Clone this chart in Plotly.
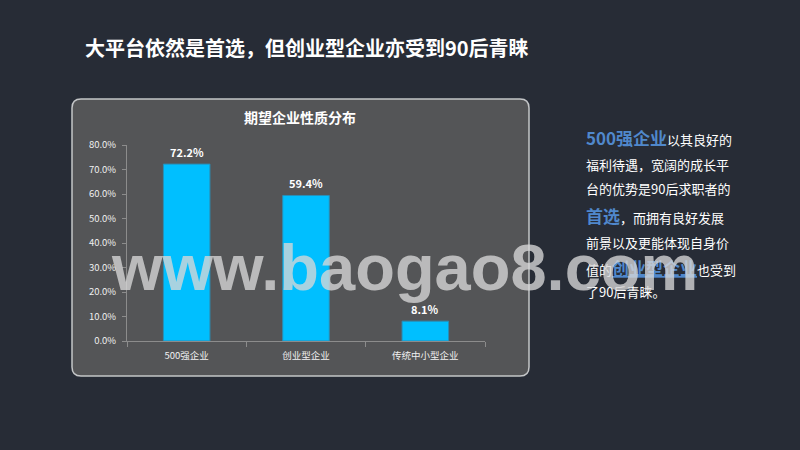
import plotly.graph_objects as go

categories = ["500强企业", "创业型企业", "传统中小型企业"]
values = [72.2, 59.4, 8.1]
value_labels = ["72.2%", "59.4%", "8.1%"]
y_ticks = [0, 10, 20, 30, 40, 50, 60, 70, 80]
y_tick_labels = ["0.0%", "10.0%", "20.0%", "30.0%", "40.0%", "50.0%", "60.0%", "70.0%", "80.0%"]

W, H = 800, 450
PL, PR, PT, PB = 127, 485, 145, 341  # plot area in px


def px_x(px):
    return (px - PL) / (PR - PL)


def px_y(py):
    return (PB - py) / (PB - PT)


def rounded_rect(x0, y0, x1, y1, r):
    pts = [
        ("M", (x0 + r, y0)),
        ("L", (x1 - r, y0)),
        ("Q", (x1, y0), (x1, y0 + r)),
        ("L", (x1, y1 - r)),
        ("Q", (x1, y1), (x1 - r, y1)),
        ("L", (x0 + r, y1)),
        ("Q", (x0, y1), (x0, y1 - r)),
        ("L", (x0, y0 + r)),
        ("Q", (x0, y0), (x0 + r, y0)),
    ]
    s = ""
    for p in pts:
        cmd = p[0]
        coords = " ".join(f"{px_x(a):.5f},{px_y(b):.5f}" for a, b in p[1:])
        s += f"{cmd} {coords} "
    return s + "Z"


CJK = "Noto Sans CJK SC"
BLUE = "#5088cc"

fig = go.Figure()
fig.add_trace(go.Bar(
    x=categories, y=values,
    marker=dict(color="#00bfff", line=dict(color="#2a8db5", width=1)),
    width=0.39,
    hoverinfo="skip",
))

annotations = []
for c, v, t in zip(categories, values, value_labels):
    annotations.append(dict(x=c, y=v, xref="x", yref="y", text=f"<b>{t}</b>",
                            showarrow=False, yanchor="middle", yshift=12,
                            font=dict(family=CJK, size=11, color="#ffffff")))

# page title
annotations.append(dict(x=px_x(83), y=px_y(47), xref="paper", yref="paper",
                        text="<b>大平台依然是首选，但创业型企业亦受到90后青睐</b>",
                        showarrow=False, xanchor="left", yanchor="middle",
                        font=dict(family=CJK, size=20, color="#ffffff")))
# chart title
annotations.append(dict(x=px_x(300), y=px_y(117), xref="paper", yref="paper",
                        text="<b>期望企业性质分布</b>",
                        showarrow=False, xanchor="center", yanchor="middle",
                        font=dict(family=CJK, size=14, color="#ffffff")))

# right text block
def hl(t, u=False):
    inner = f"<b>{t}</b>"
    if u:
        inner = f"<u>{inner}</u>"
    return f"<span style='color:{BLUE};font-size:17px'>{inner}</span>"

lines = [
    hl("500强企业") + "以其良好的",
    "福利待遇，宽阔的成长平",
    "台的优势是90后求职者的",
    hl("首选") + "，而拥有良好发展",
    "前景以及更能体现自身价",
    "值的" + hl("创业型企业", True) + "也受到",
    "了90后青睐。",
]
line_y = [137, 164, 188, 215, 242, 267, 291]
for t, ly in zip(lines, line_y):
    annotations.append(dict(x=px_x(584), y=px_y(ly), xref="paper", yref="paper",
                            text=t, showarrow=False, xanchor="left", yanchor="middle",
                            font=dict(family=CJK, size=13, color="#ffffff")))

# watermark
annotations.append(dict(x=px_x(109), y=px_y(267), xref="paper", yref="paper",
                        text="<b>www.baogao8.com</b>", showarrow=False,
                        xanchor="left", yanchor="middle",
                        font=dict(family="Liberation Sans", size=65,
                                  color="rgba(215,215,215,0.78)")))

fig.update_layout(
    width=W, height=H,
    margin=dict(l=PL, r=W - PR, t=PT, b=H - PB, pad=0),
    paper_bgcolor="#272c36",
    plot_bgcolor="rgba(0,0,0,0)",
    showlegend=False,
    bargap=0.61,
    annotations=annotations,
    shapes=[dict(type="path", xref="paper", yref="paper",
                 path=rounded_rect(72, 99, 529, 376, 9),
                 fillcolor="#545557", line=dict(color="#c4c6c8", width=1.5),
                 layer="below")],
    xaxis=dict(
        type="category", showline=True, linecolor="#8c8c8c", linewidth=1,
        ticks="outside", tickson="boundaries", ticklen=5, tickcolor="#8c8c8c",
        showgrid=False, zeroline=False, ticklabelstandoff=6,
        tickfont=dict(family=CJK, size=9.5, color="#f0f0f0"),
        fixedrange=True,
    ),
    yaxis=dict(
        range=[0, 80], tickvals=y_ticks, ticktext=y_tick_labels,
        showline=True, linecolor="#8c8c8c", linewidth=1,
        ticks="outside", ticklen=4, tickcolor="#8c8c8c",
        showgrid=False, zeroline=False, ticklabelstandoff=4,
        tickfont=dict(family=CJK, size=9.5, color="#f0f0f0"),
        fixedrange=True,
    ),
)

fig.write_html(
    "out.html",
    config={"displayModeBar": False},
    post_script="document.body.style.margin='0';document.body.style.background='#272c36';",
)
